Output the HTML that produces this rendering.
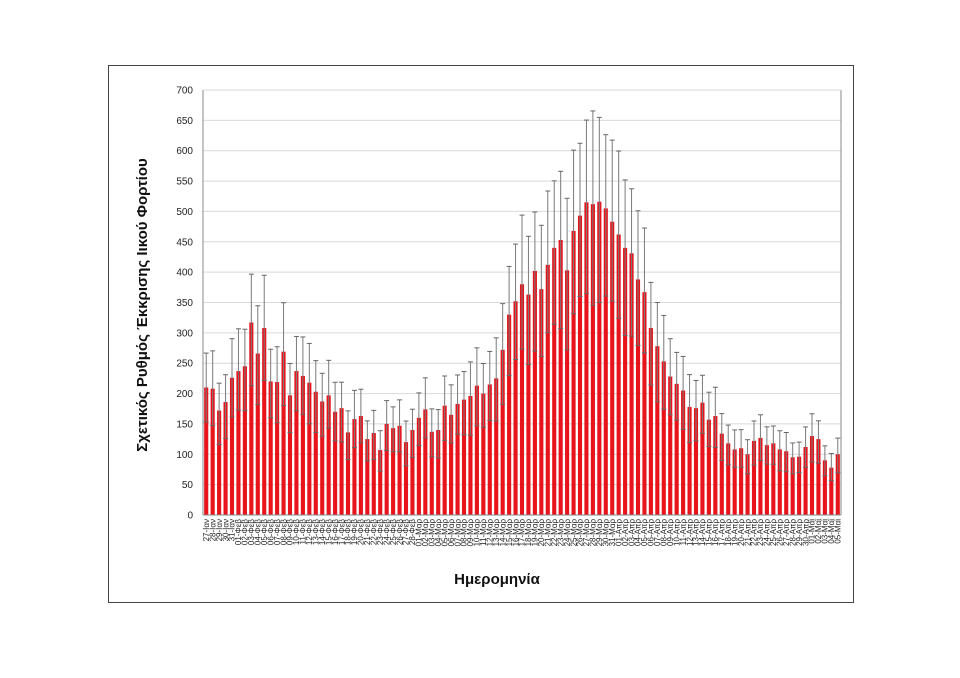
<!DOCTYPE html>
<html><head><meta charset="utf-8">
<style>
html,body{margin:0;padding:0;background:#fff;}
svg{display:block;font-family:"Liberation Sans","DejaVu Sans",sans-serif;}
</style></head>
<body>
<svg id="c" width="960" height="678" viewBox="0 0 960 678" xmlns="http://www.w3.org/2000/svg">
<rect x="108.5" y="65.5" width="745" height="537" fill="#fff" stroke="#444" stroke-width="1"/>
<g id="g"></g>
<text x="497" y="584" font-size="15" font-weight="bold" text-anchor="middle" fill="#111">Ημερομηνία</text>
<text transform="translate(147,305) rotate(-90)" font-size="15" font-weight="bold" text-anchor="middle" fill="#111">Σχετικός Ρυθμός Έκκρισης Ιικού Φορτίου</text>
</svg>
<script>
var v=[210,208,172,186,226,237,245,317,266,308,
220,219,269,197,237,229,218,203,187,197,
170,176,136,158,163,125,135,107,150,143,
147,120,140,160,174,137,140,180,165,183,
190,196,213,200,215,225,272,330,352,380,
363,402,372,412,440,453,403,468,493,515,
512,516,505,483,462,440,431,388,367,308,
278,253,228,216,205,178,176,185,157,163,
134,118,108,110,100,122,127,115,118,108,
105,95,96,112,130,125,90,78,100];
var x0=203,x1=841,y0=515,sc=425/700,n=v.length,w=(x1-x0)/n;
var s='';
for(var t=0;t<=700;t+=50){var y=y0-t*sc;
 if(t>0)s+='<line x1="'+x0+'" x2="'+x1+'" y1="'+y+'" y2="'+y+'" stroke="#d9d9d9" stroke-width="1"/>';
 s+='<text x="193" y="'+(y+3.5)+'" font-size="10" text-anchor="end" fill="#222">'+t+'</text>';}
var months=[["Ιαν",31],["Φεβ",28],["Μαρ",31],["Απρ",30],["Μαϊ",31]];
var m=0,d=27;
for(var i=0;i<n;i++){
 var cx=x0+(i+0.5)*w,h=v[i]*sc,bw=w*0.64;
 s+='<rect x="'+(cx-bw/2)+'" y="'+(y0-h)+'" width="'+bw+'" height="'+h+'" fill="#e8141c"/>';
 var up=v[i]*(1.27+0.03*Math.sin(i*1.7)),lo=v[i]*(0.7+0.03*Math.cos(i*1.3));
 var yu=y0-up*sc,yl=y0-lo*sc;
 s+='<line x1="'+cx+'" x2="'+cx+'" y1="'+yu+'" y2="'+yl+'" stroke="#7a7a7a" stroke-width="1"/>';
 s+='<line x1="'+(cx-2.5)+'" x2="'+(cx+2.5)+'" y1="'+yu+'" y2="'+yu+'" stroke="#666" stroke-width="1"/>';
 s+='<line x1="'+(cx-2.5)+'" x2="'+(cx+2.5)+'" y1="'+yl+'" y2="'+yl+'" stroke="#666" stroke-width="1"/>';
 var lab=(d<10?'0':'')+d+'-'+months[m][0];
 s+='<text transform="translate('+(cx+2.7)+',519) rotate(-90)" font-size="8" text-anchor="end" fill="#222">'+lab+'</text>';
 d++; if(d>months[m][1]){d=1;m++;}
}
s+='<line x1="'+x0+'" x2="'+x0+'" y1="90" y2="'+y0+'" stroke="#888"/>';
s+='<line x1="'+x0+'" x2="'+x1+'" y1="'+y0+'" y2="'+y0+'" stroke="#888"/>';
s+='<line x1="'+x1+'" x2="'+x1+'" y1="90" y2="'+y0+'" stroke="#888"/>';
s+='<line x1="'+x0+'" x2="'+x1+'" y1="90" y2="90" stroke="#d9d9d9"/>';
document.getElementById('g').innerHTML=s;
</script>
</body></html>
